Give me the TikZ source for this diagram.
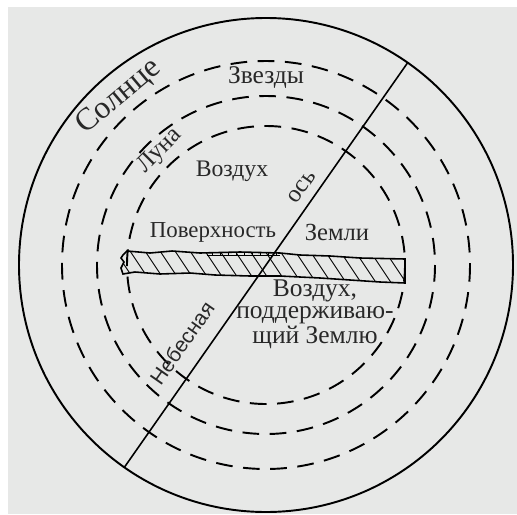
\documentclass[tikz,border=0pt]{standalone}
\usepackage{fontspec}
\setmainfont{Liberation Serif}
\setsansfont{Liberation Sans}
\usepackage{tikz}
\usetikzlibrary{positioning, calc}
\definecolor{paper}{RGB}{231,232,231}
\definecolor{ink}{RGB}{40,40,40}

\begin{document}
\begin{tikzpicture}[
    x=0.02cm, y=-0.02cm,
    ring/.style={draw=black, line width=1.1pt},
    dashring/.style={draw=black, line width=1.1pt, dash pattern=on 9.5pt off 6pt},
    axisline/.style={draw=black, line width=0.9pt},
    hatch/.style={draw=black, line width=0.55pt},
    lbl/.style={text=ink, inner sep=0pt, font=\fontsize{14}{16}\selectfont},
    biglbl/.style={text=ink, inner sep=0pt, font=\fontsize{18}{20}\selectfont}
]
\useasboundingbox (0,0) rectangle (517,514);
\fill[white] (0,0) rectangle (517,514);
\fill[paper] (8,7) rectangle (517,514);

% centre of the spheres
\coordinate (c) at (266,265);

% sphere of the Sun and the dashed spheres
\draw[ring] (c) circle[radius=247];
\draw[dashring] (c) circle[radius=204];
\draw[dashring] (c) circle[radius=169];
\draw[dashring] (c) circle[radius=139];

% the Earth slab
\begin{scope}
  \clip (123,255) -- (127,251) -- (150,253) -- (172,251) -- (200,253) -- (240,252)
    -- (280,253) -- (300,255) -- (330,256) -- (360,258) -- (405,259) -- (405,283)
    -- (380,282) -- (350,280) -- (320,278) -- (280,276) -- (250,276) -- (215,275)
    -- (190,273) -- (160,274) -- (135,272) -- (123,274) -- (121,268) -- (124,262)
    -- (121,258) -- cycle;
  \foreach \hx in {96,111,...,420}
    \draw[hatch] (\hx,245) -- ++(28,42);
\end{scope}
\draw[line width=0.9pt] (123,255) -- (127,251) -- (150,253) -- (172,251) -- (200,253) -- (240,252)
    -- (280,253) -- (300,255) -- (330,256) -- (360,258) -- (405,259) -- (405,283)
    -- (380,282) -- (350,280) -- (320,278) -- (280,276) -- (250,276) -- (215,275)
    -- (190,273) -- (160,274) -- (135,272) -- (123,274) -- (121,268) -- (124,262)
    -- (121,258) -- cycle;
\draw[hatch] (207,255.5) -- (280,255.5);
\foreach \tx in {212,220,...,276}
  \draw[hatch] (\tx,252.5) -- (\tx,255.5);

% celestial axis
\coordinate (axtop) at ($(c)+(-55:247)$);
\coordinate (axbot) at ($(c)+(125:247)$);
\draw[axisline] (axbot) -- (axtop);

% labels
\node[biglbl, rotate=40] (sun) at (119,97) {Солнце};
\node[lbl, font=\fontsize{14.5}{16}\selectfont] (stars) at (266,78) {Звезды};
\node[lbl, rotate=45] (moon) at (160,151) {Луна};
\node[lbl, font=\fontsize{13.5}{16}\selectfont] (airtop) at (232,171) {Воздух};
\node[lbl, rotate=55] (axlbl) at (302,187) {ось};
\node[lbl, font=\fontsize{13}{16}\selectfont] (surface) at (213,232) {Поверхность};
\node[lbl] (earth) at (337,232) {Земли};
\node[lbl, align=center, font=\fontsize{14.5}{12.8}\selectfont] (airlow) at (315,314)
  {Воздух,\\поддерживаю-\\щий Землю};
\node[lbl, rotate=55, font=\sffamily\fontsize{12}{14}\selectfont] (celestial) at (182,343) {Небесная};

\end{tikzpicture}
\end{document}
